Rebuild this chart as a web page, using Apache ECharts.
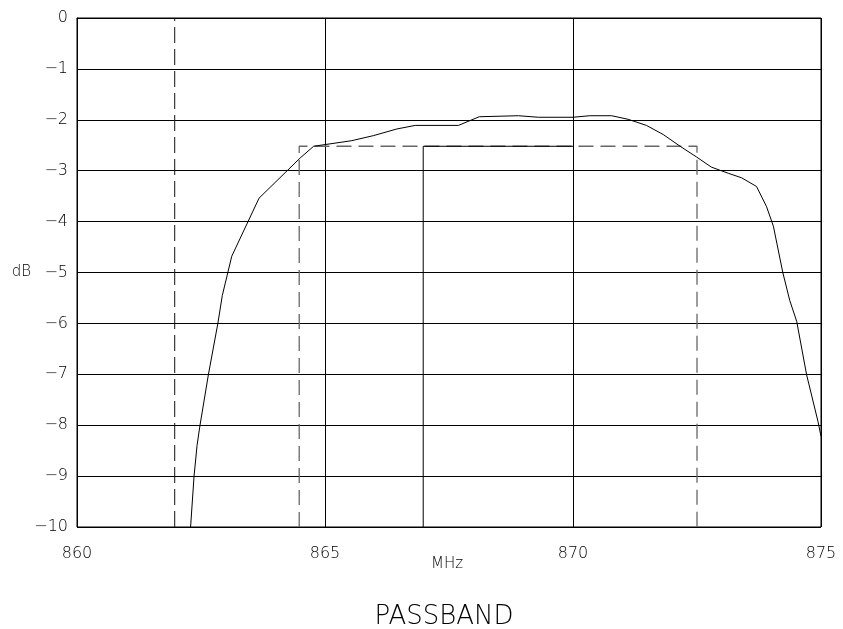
<!DOCTYPE html>
<html>
<head>
<meta charset="utf-8">
<script src="https://cdn.jsdelivr.net/npm/echarts@6/dist/echarts.min.js"></script>
<style>html,body{margin:0;padding:0;background:#fff;}#c{width:843px;height:629px;}</style>
</head>
<body>
<div id="c"></div>
<script>
// Measured passband response (MHz, dB)
const responseFreq = [862.29,862.36,862.42,862.48,862.65,862.84,862.93,863.12,863.67,864.5,864.77,865.54,865.98,866.45,866.82,867.69,868.11,868.9,869.3,870.0,870.34,870.78,871.11,871.48,871.82,872.16,872.49,872.79,873.13,873.4,873.7,873.9,874.04,874.23,874.37,874.51,874.71,874.94,875.0];
const responseDb   = [-10,-9,-8.4,-8,-7,-6,-5.45,-4.68,-3.54,-2.75,-2.52,-2.41,-2.31,-2.18,-2.11,-2.11,-1.94,-1.92,-1.95,-1.95,-1.92,-1.92,-1.99,-2.11,-2.29,-2.52,-2.73,-2.93,-3.05,-3.14,-3.31,-3.7,-4.09,-5.0,-5.55,-5.96,-7.01,-7.93,-8.22];
// Dashed limit markers
const markerFreq = [861.97, 861.97];
const markerDb = [-10, 0];
const maskFreq = [864.48, 864.48, 872.5, 872.5];
const maskDb = [-10, -2.52, -2.52, -10];
// Solid inner limit
const innerFreq = [866.98, 866.98, 870];
const innerDb = [-10, -2.52, -2.52];
// Axis ticks
const xTicks = [860, 865, 870, 875];
const yTicks = [0,-1,-2,-3,-4,-5,-6,-7,-8,-9,-10];
const titleText = 'PASSBAND';

const zip = (a, b) => a.map((v, i) => [v, b[i]]);
const font = '"DejaVu Sans ExtraLight", "DejaVu Sans Light", "DejaVu Sans", sans-serif';
const txt = '#000';
const chart = echarts.init(document.getElementById('c'), null, {renderer: 'canvas'});
chart.setOption({
  animation: false,
  backgroundColor: '#fff',
  graphic: [{
    type: 'text', x: 444, y: 617,
    style: {text: titleText, font: '26px ' + font, fill: txt, align: 'center', verticalAlign: 'middle'}
  }],
  grid: {left: 77, right: 22, top: 18, bottom: 102, show: true, borderColor: '#000', borderWidth: 1},
  xAxis: {
    type: 'value', min: xTicks[0], max: xTicks[xTicks.length - 1], interval: 5,
    name: 'MHz', nameLocation: 'middle', nameGap: 30, nameMoveOverlap: false,
    nameTextStyle: {fontFamily: font, fontSize: 15, color: txt, padding: [0, 4, 0, 0]},
    axisLine: {show: true, lineStyle: {color: '#000', width: 1}},
    axisTick: {show: false},
    axisLabel: {fontFamily: font, fontSize: 16, color: txt, margin: 19},
    splitLine: {show: true, lineStyle: {color: '#000', width: 1}}
  },
  yAxis: {
    type: 'value', min: yTicks[yTicks.length - 1], max: yTicks[0], interval: 1,
    name: 'dB', nameLocation: 'middle', nameGap: 46, nameRotate: 0, nameMoveOverlap: false,
    nameTextStyle: {fontFamily: font, fontSize: 15, color: txt, align: 'right'},
    axisLine: {show: true, lineStyle: {color: '#000', width: 1}},
    axisTick: {show: false},
    axisLabel: {fontFamily: font, fontSize: 16, color: txt, margin: 9,
      formatter: v => (v < 0 ? '\u2212' + Math.abs(v) : String(v))},
    splitLine: {show: true, lineStyle: {color: '#000', width: 1}}
  },
  series: [
    {type: 'line', data: zip(markerFreq, markerDb), symbol: 'none', silent: true,
     lineStyle: {color: '#111', width: 1, type: [16, 6]}},
    {type: 'line', data: zip(maskFreq, maskDb), symbol: 'none', silent: true,
     lineStyle: {color: '#666', width: 1.3, type: [15, 7]}},
    {type: 'line', data: zip(innerFreq, innerDb), symbol: 'none', silent: true,
     lineStyle: {color: '#000', width: 1}},
    {type: 'line', data: zip(responseFreq, responseDb), symbol: 'none', silent: true,
     lineStyle: {color: '#000', width: 1}}
  ]
});
</script>
</body>
</html>
